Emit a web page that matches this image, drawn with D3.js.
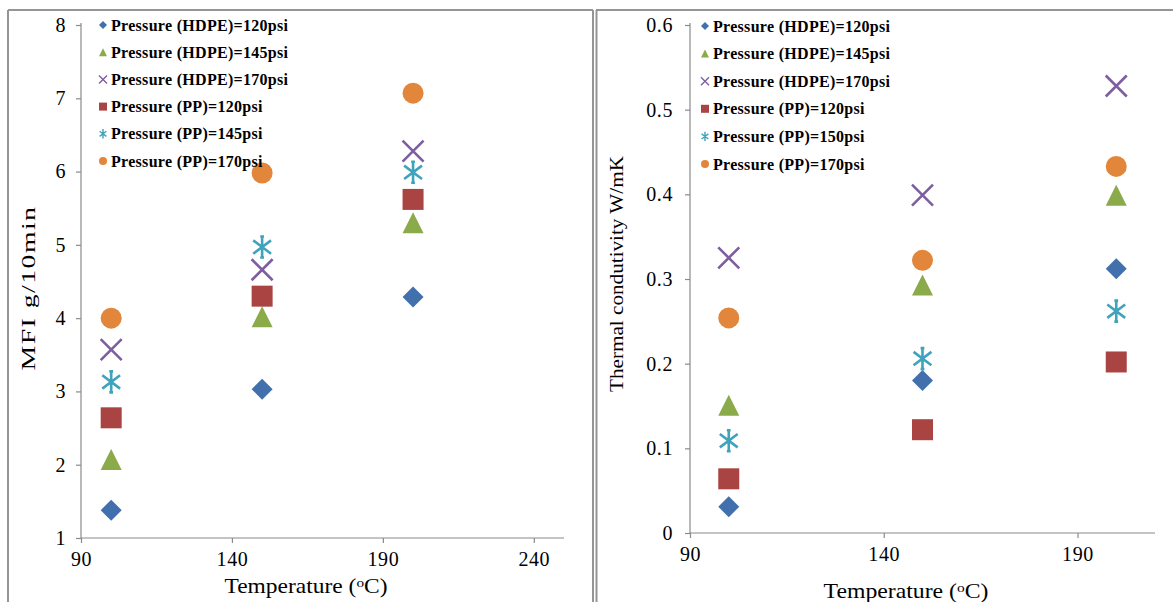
<!DOCTYPE html>
<html>
<head>
<meta charset="utf-8">
<script src="https://cdn.jsdelivr.net/npm/d3@7"></script>
<style>
  html, body { margin: 0; padding: 0; background: #fff; }
  svg { display: block; }
  text { font-family: "Liberation Serif", "Times New Roman", serif; fill: #000; }
</style>
</head>
<body>
<svg id="chart" width="1173" height="602"></svg>
<script>
// ---------------- DATA ----------------
const temperatures = [100, 150, 200];

// Left chart: MFI g/10min
const mfiHdpe120 = [1.38, 3.03, 4.29];
const mfiHdpe145 = [2.07, 4.02, 5.30];
const mfiHdpe170 = [3.57, 4.66, 6.28];
const mfiPp120   = [2.64, 4.30, 5.62];
const mfiPp145   = [3.13, 4.97, 5.99];
const mfiPp170   = [4.00, 5.98, 7.07];
const mfiLabels = ["Pressure (HDPE)=120psi", "Pressure (HDPE)=145psi", "Pressure (HDPE)=170psi",
                   "Pressure (PP)=120psi", "Pressure (PP)=145psi", "Pressure (PP)=170psi"];
const mfiXTicks = [90, 140, 190, 240];
const mfiYTicks = [1, 2, 3, 4, 5, 6, 7, 8];

// Right chart: Thermal conductivity W/mK
const tcHdpe120 = [0.031, 0.180, 0.312];
const tcHdpe145 = [0.151, 0.293, 0.399];
const tcHdpe170 = [0.325, 0.399, 0.528];
const tcPp120   = [0.064, 0.122, 0.202];
const tcPp150   = [0.109, 0.206, 0.262];
const tcPp170   = [0.254, 0.322, 0.433];
const tcLabels = ["Pressure (HDPE)=120psi", "Pressure (HDPE)=145psi", "Pressure (HDPE)=170psi",
                  "Pressure (PP)=120psi", "Pressure (PP)=150psi", "Pressure (PP)=170psi"];
const tcXTicks = [90, 140, 190];
const tcYTicks = [0, 0.1, 0.2, 0.3, 0.4, 0.5, 0.6];

// ---------------- STYLE ----------------
const markerTypes = ["diamond", "triangle", "x", "square", "star", "circle"];
const markerColors = ["#4170AC", "#8BAA4A", "#7D5E9E", "#A94442", "#3FA3BC", "#E2863B"];

const svg = d3.select("#chart");

// panel borders
const border = "#959595";
svg.append("line").attr("x1", 8).attr("y1", 10).attr("x2", 593).attr("y2", 10).attr("stroke", border).attr("stroke-width", 2);
svg.append("line").attr("x1", 8).attr("y1", 10).attr("x2", 8).attr("y2", 602).attr("stroke", border).attr("stroke-width", 2);
svg.append("line").attr("x1", 593).attr("y1", 10).attr("x2", 593).attr("y2", 602).attr("stroke", border).attr("stroke-width", 2);
svg.append("line").attr("x1", 596.5).attr("y1", 10).attr("x2", 596.5).attr("y2", 602).attr("stroke", border).attr("stroke-width", 2);
svg.append("line").attr("x1", 596).attr("y1", 10).attr("x2", 1173).attr("y2", 10).attr("stroke", border).attr("stroke-width", 2);

function markerPath(type, s) {
  const h = s;
  switch (type) {
    case "diamond": return `M0,${-h}L${h},0L0,${h}L${-h},0Z`;
    case "triangle": return `M0,${-h}L${h},${h}L${-h},${h}Z`;
    case "square": return `M${-h},${-h}H${h}V${h}H${-h}Z`;
    case "circle": return d3.symbol(d3.symbolCircle, Math.PI * h * h)();
    case "x": return `M${-h},${-h}L${h},${h}M${-h},${h}L${h},${-h}`;
    case "star": {
      const d = h * 0.85;
      return `M0,${-h}V${h}M${-d},${-d * 0.75}L${d},${d * 0.75}M${-d},${d * 0.75}L${d},${-d * 0.75}` +
             `M${-h * 0.18},${-h}H${h * 0.18}M${-h * 0.18},${h}H${h * 0.18}`;
    }
  }
}

function drawMarker(g, type, color, x, y, s, sw) {
  const p = g.append("path")
    .attr("transform", `translate(${x},${y})`)
    .attr("d", markerPath(type, s));
  if (type === "x" || type === "star") {
    p.attr("fill", "none").attr("stroke", color).attr("stroke-width", sw);
  } else {
    p.attr("fill", color);
  }
}

function drawChart(opts) {
  const g = svg.append("g");
  const x = d3.scaleLinear().domain(opts.xDomain).range([opts.left, opts.right]);
  const y = d3.scaleLinear().domain(opts.yDomain).range([opts.bottom, opts.top]);

  const xAxis = d3.axisBottom(x).tickValues(opts.xTicks).tickSize(5).tickFormat(d3.format("d"));
  const yAxis = d3.axisLeft(y).tickValues(opts.yTicks).tickSize(5).tickFormat(opts.yFormat);

  const gx = g.append("g").attr("transform", `translate(0,${opts.bottom})`).call(xAxis);
  const gy = g.append("g").attr("transform", `translate(${opts.left},0)`).call(yAxis);
  [gx, gy].forEach(a => {
    a.select(".domain").attr("stroke", "#8a8a8a").attr("stroke-width", 1.2);
    a.selectAll(".tick line").attr("stroke", "#8a8a8a").attr("stroke-width", 1.2);
    a.selectAll(".tick text")
      .style("font-family", '"Liberation Serif", serif')
      .style("font-size", opts.tickFont + "px")
      .style("letter-spacing", "0.6px")
      .attr("fill", "#111");
  });
  gx.selectAll(".tick text").attr("dy", "0.71em").attr("y", 14);
  gy.selectAll(".tick text").attr("x", -opts.yLabelGap);
  gx.select(".domain").attr("d", `M${opts.left},0H${opts.right}`);
  gy.select(".domain").attr("d", `M0,${opts.bottom}V${opts.top - 2}`);

  // data
  opts.series.forEach((vals, i) => {
    vals.forEach((v, j) => {
      drawMarker(g, markerTypes[i], markerColors[i], x(temperatures[j]), y(v), 10.5, 2.6);
    });
  });

  // legend
  opts.labels.forEach((lab, i) => {
    const ly = opts.legendY + i * opts.legendStep;
    drawMarker(g, markerTypes[i], markerColors[i], opts.legendX, ly, 4, 1.4);
    g.append("text")
      .attr("x", opts.legendX + 8).attr("y", ly)
      .attr("dy", "0.35em")
      .style("font-size", "16px")
      .style("font-weight", "bold")
      .style("letter-spacing", "0.3px")
      .text(lab);
  });

  // x axis title (stretched along baseline to match reference width)
  const xtg = g.append("g");
  const xt = xtg.append("text")
    .attr("x", 0).attr("y", 0)
    .attr("text-anchor", "middle")
    .style("font-size", "20px");
  xt.append("tspan").text("Temperature (");
  xt.append("tspan").text("o").style("font-size", "13px").attr("dy", "-6");
  xt.append("tspan").text("C)").attr("dy", "6");
  const xsx = opts.xTitleLen / xt.node().getComputedTextLength();
  xtg.attr("transform", `translate(${opts.xTitleX},${opts.xTitleY}) scale(${xsx},1)`);

  // y axis title
  const ytg = g.append("g");
  const yt = ytg.append("text")
    .attr("text-anchor", "middle")
    .style("font-size", opts.yTitleFont + "px")
    .style("letter-spacing", opts.yTitleSpacing + "px")
    .text(opts.yTitle);
  const ysx = opts.yTitleLen / yt.node().getComputedTextLength();
  ytg.attr("transform", `translate(${opts.yTitleX},${opts.yTitleY}) rotate(-90) scale(${ysx},1)`);
}

drawChart({
  xDomain: [90, 250], yDomain: [1, 8],
  left: 81, right: 564, top: 25, bottom: 538,
  xTicks: mfiXTicks, yTicks: mfiYTicks, yFormat: d3.format("d"),
  tickFont: 20, yLabelGap: 15,
  series: [mfiHdpe120, mfiHdpe145, mfiHdpe170, mfiPp120, mfiPp145, mfiPp170],
  labels: mfiLabels, legendX: 103, legendY: 25, legendStep: 27.2,
  xTitleX: 306, xTitleY: 593, xTitleLen: 163,
  yTitle: "MFI g/10min", yTitleX: 35, yTitleY: 288, yTitleFont: 19, yTitleSpacing: 1, yTitleLen: 165
});

drawChart({
  xDomain: [90, 210], yDomain: [0, 0.6],
  left: 690, right: 1155, top: 25, bottom: 533,
  xTicks: tcXTicks, yTicks: tcYTicks, yFormat: d => d === 0 ? "0" : d3.format(".1f")(d),
  tickFont: 20, yLabelGap: 17,
  series: [tcHdpe120, tcHdpe145, tcHdpe170, tcPp120, tcPp150, tcPp170],
  labels: tcLabels, legendX: 705, legendY: 26, legendStep: 27.6,
  xTitleX: 906, xTitleY: 598, xTitleLen: 165,
  yTitle: "Thermal condutivity W/mK", yTitleX: 623, yTitleY: 274, yTitleFont: 19, yTitleSpacing: 0, yTitleLen: 236
});
</script>
</body>
</html>
